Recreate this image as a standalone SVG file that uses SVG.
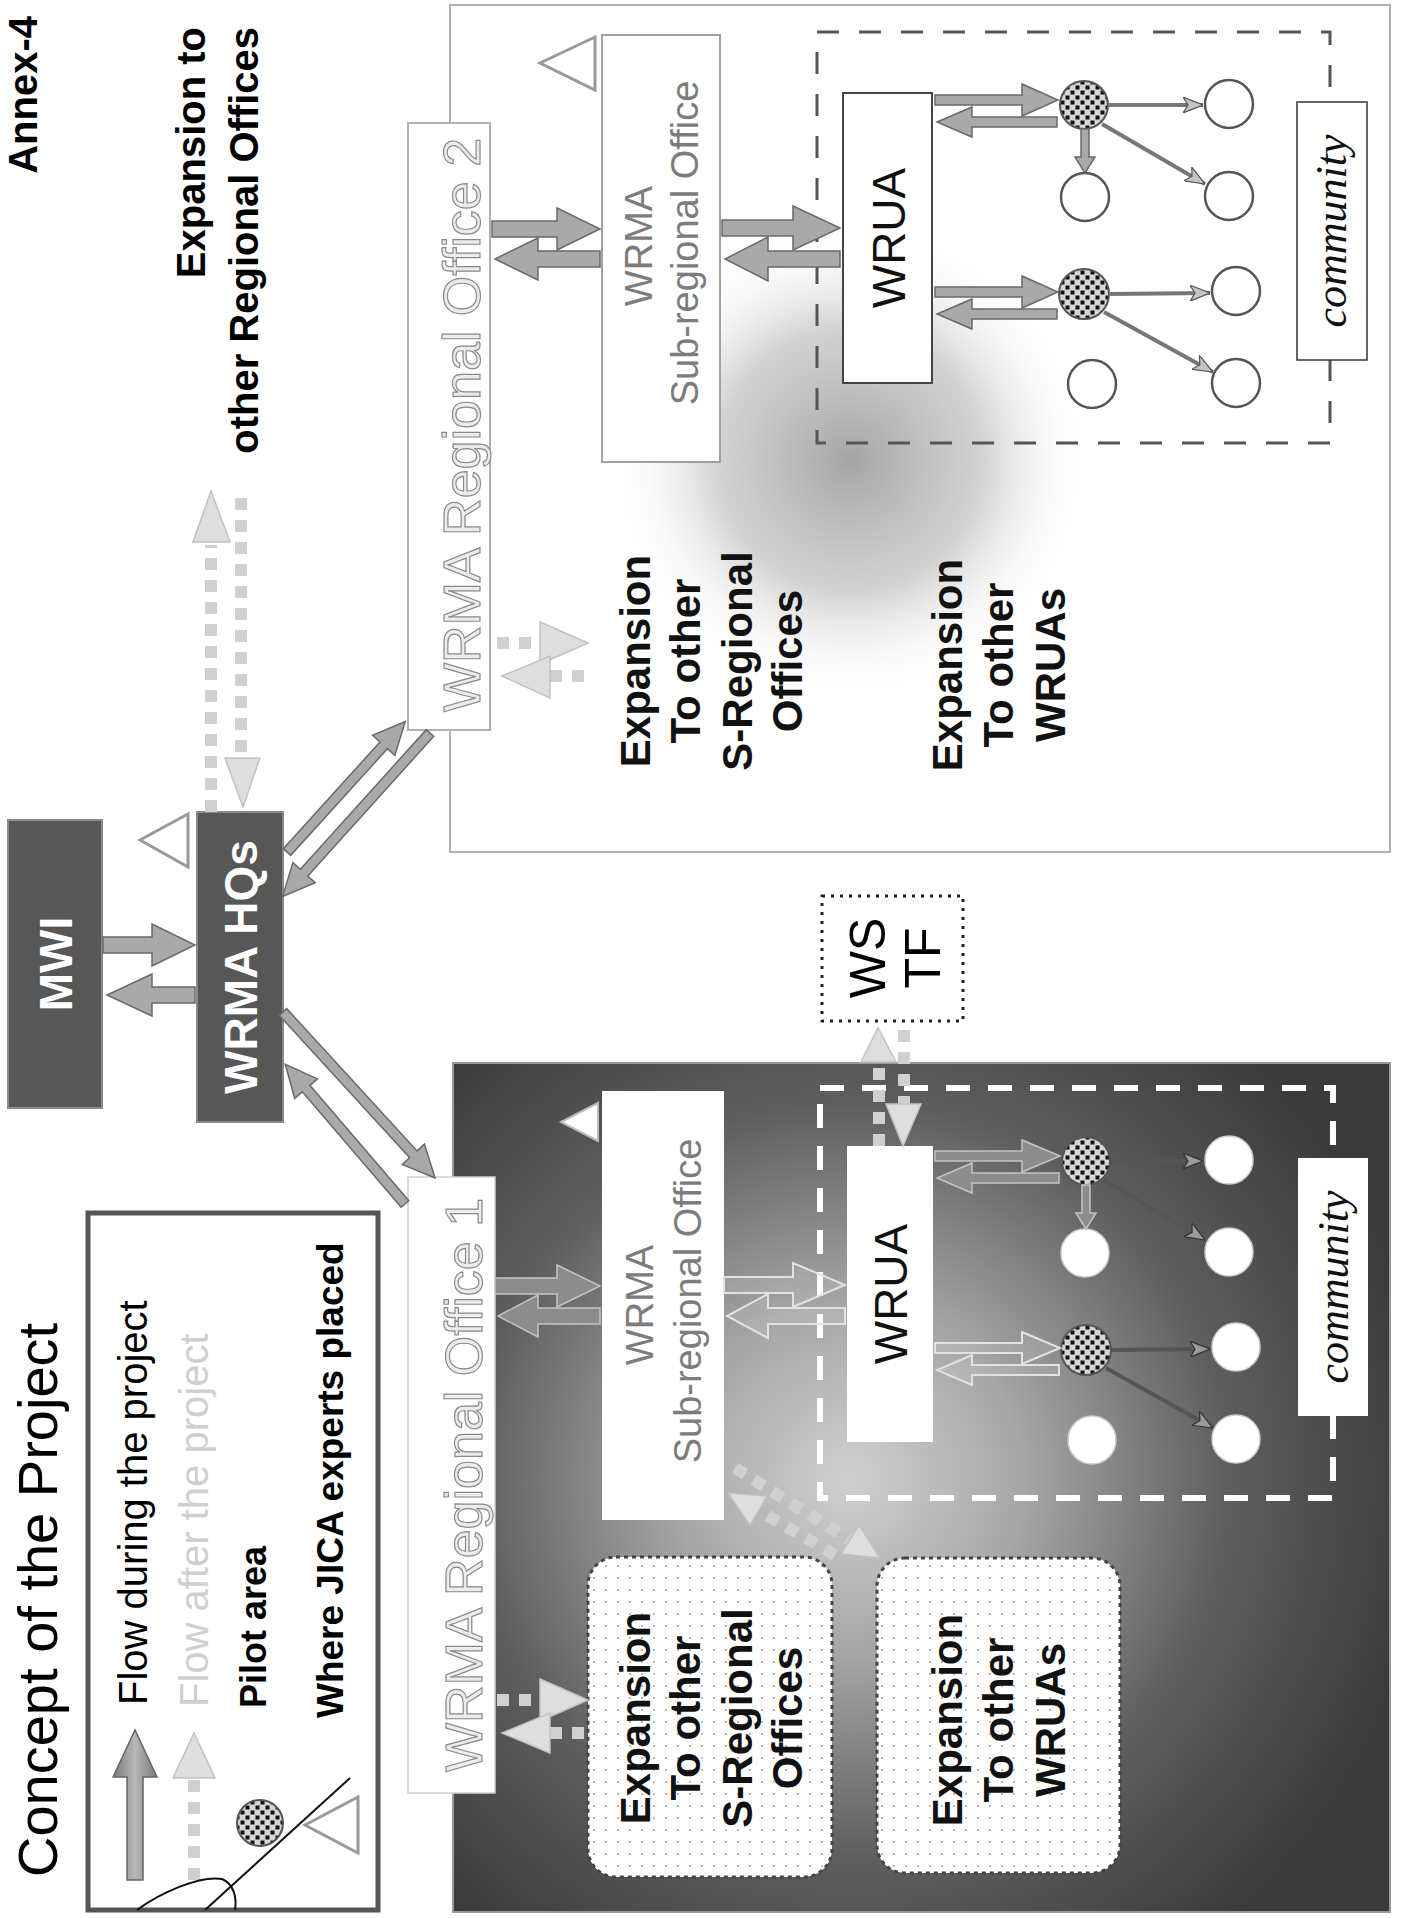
<svg xmlns="http://www.w3.org/2000/svg" width="1405" height="1918" viewBox="0 0 1405 1918">
<style>
.t{font-family:"Liberation Sans",Arial,sans-serif}
.b{font-weight:bold}
.lbl{font-family:"Liberation Sans",Arial,sans-serif;font-size:52px;fill:#ececec;stroke:#8a8a8a;stroke-width:1.2}
.sro{font-family:"Liberation Sans",Arial,sans-serif;font-size:38px;fill:#7c7c7c}
.wrua{font-family:"Liberation Sans",Arial,sans-serif;font-size:46px;fill:#111}
.com{font-family:"Liberation Serif","Times New Roman",serif;font-style:italic;font-size:44px;fill:#111}
.exp{font-family:"Liberation Sans",Arial,sans-serif;font-weight:bold;font-size:42px;fill:#111}
.arrow{fill:#a9a9a9;stroke:#6a6a6a;stroke-width:1.5}
.arrowD{fill:#8c8c8c;stroke:#c4c4c4;stroke-width:1.5}
.hollow{fill:#ffffff;fill-opacity:0.12;stroke:#e2e2e2;stroke-width:2}
.dshaft{stroke:#d0d0d0;stroke-width:12;stroke-dasharray:12 10;fill:none}
.dhead{fill:#dedede;stroke:#c2c2c2;stroke-width:1.5}
.thin{stroke:#777;stroke-width:4;fill:none;marker-end:url(#ah)}
.thinD{stroke:#555;stroke-width:4;fill:none;marker-end:url(#ahD)}
.circ{fill:#fff;stroke:#555;stroke-width:2.5}
.circW{fill:#fff;stroke:#cfcfcf;stroke-width:1.5}
.pilot{fill:url(#chk);stroke:#555;stroke-width:2}
.tri{fill:#fff;stroke:#999;stroke-width:3;stroke-linejoin:miter}
.dark{fill:#575757;stroke:#8a8a8a;stroke-width:2}
</style>
<defs>
<pattern id="chk" width="10" height="10" patternUnits="userSpaceOnUse">
<rect width="10" height="10" fill="#d6d6d6"/>
<rect x="0.5" y="0.5" width="4" height="4" fill="#111"/>
<rect x="5.5" y="5.5" width="4" height="4" fill="#111"/>
</pattern>
<pattern id="dots" width="12" height="12" patternUnits="userSpaceOnUse">
<rect width="12" height="12" fill="#fff"/>
<circle cx="6" cy="6" r="0.9" fill="#9a9a9a"/>
</pattern>
<radialGradient id="ro1g" gradientUnits="userSpaceOnUse" cx="850" cy="1480" r="580">
<stop offset="0" stop-color="#d0d0d0"/>
<stop offset="0.3" stop-color="#a6a6a6"/>
<stop offset="0.65" stop-color="#5e5e5e"/>
<stop offset="1" stop-color="#3b3b3b"/>
</radialGradient>
<radialGradient id="blob" gradientUnits="userSpaceOnUse" cx="850" cy="460" r="240">
<stop offset="0" stop-color="#a0a0a0" stop-opacity="0.95"/>
<stop offset="0.55" stop-color="#bababa" stop-opacity="0.65"/>
<stop offset="1" stop-color="#ffffff" stop-opacity="0"/>
</radialGradient>
<linearGradient id="legA" x1="0" y1="0" x2="1" y2="0">
<stop offset="0" stop-color="#7a7a7a"/>
<stop offset="0.5" stop-color="#b8b8b8"/>
<stop offset="1" stop-color="#7a7a7a"/>
</linearGradient>
<marker id="ah" viewBox="0 0 20 16" refX="20" refY="8" markerWidth="20" markerHeight="16" markerUnits="userSpaceOnUse" orient="auto">
<path d="M0,0 L20,8 L0,16 L5,8 z" fill="#c4c4c4" stroke="#555" stroke-width="1.2"/>
</marker>
<marker id="ahD" viewBox="0 0 20 16" refX="20" refY="8" markerWidth="20" markerHeight="16" markerUnits="userSpaceOnUse" orient="auto">
<path d="M0,0 L20,8 L0,16 L5,8 z" fill="#9a9a9a" stroke="#333" stroke-width="1.2"/>
</marker>
</defs>

<rect width="1405" height="1918" fill="#fff"/>

<!-- Titles -->
<g id="annex"><text class="t b" font-size="40" x="37" y="16" text-anchor="end" transform="rotate(-90 37 16)">Annex-4</text></g>
<g id="expansion-regional">
<text class="t b" font-size="40" x="205" y="27" text-anchor="end" transform="rotate(-90 205 27)">Expansion to</text>
<text class="t b" font-size="40" x="258" y="27" text-anchor="end" transform="rotate(-90 258 27)">other Regional Offices</text>
</g>
<g id="title"><text class="t" font-size="56" x="57" y="1877" transform="rotate(-90 57 1877)">Concept of the Project</text></g>

<!-- Legend -->
<g id="legend">
<rect x="88" y="1213" width="290" height="697" fill="#fff" stroke="#555" stroke-width="5"/>
<polygon points="127,1880 127,1777 113,1777 135,1730 157,1777 143,1777 143,1880" fill="url(#legA)" stroke="#666" stroke-width="1.5"/>
<text class="t" font-size="40" x="147" y="1705" transform="rotate(-90 147 1705)">Flow during the project</text>
<line class="dshaft" x1="194" y1="1880" x2="194" y2="1778"/>
<polygon class="dhead" points="173,1778 215,1778 194,1733"/>
<text class="t" font-size="40" fill="#cfcfcf" x="208" y="1707" transform="rotate(-90 208 1707)">Flow after the project</text>
<circle class="pilot" cx="260" cy="1823" r="23"/>
<text class="t b" font-size="36" x="266" y="1708" transform="rotate(-90 266 1708)">Pilot area</text>
<polygon class="tri" points="305,1825 358,1797 358,1853"/>
<text class="t b" font-size="37" x="343" y="1718" transform="rotate(-90 343 1718)">Where JICA experts placed</text>
<path d="M137,1910 C160,1893 200,1875 222,1879 C234,1884 237,1898 235,1910" fill="none" stroke="#111" stroke-width="2"/>
<line x1="205" y1="1910" x2="350" y2="1778" stroke="#111" stroke-width="2"/>
</g>

<!-- Top-level nodes -->
<g id="mwi">
<rect class="dark" x="8" y="820" width="94" height="288"/>
<text class="t b" font-size="46" fill="#fff" x="72" y="964" text-anchor="middle" transform="rotate(-90 72 964)">MWI</text>
</g>
<g id="wrma-hq">
<rect class="dark" x="197" y="812" width="86" height="310"/>
<text class="t b" font-size="46" fill="#fff" x="257" y="967" text-anchor="middle" transform="rotate(-90 257 967)">WRMA HQs</text>
<polygon class="tri" points="140,840 188,814 188,867"/>
</g>

<!-- Regional Office 2 -->
<g id="ro2">
<rect x="450" y="5" width="940" height="847" fill="#fff" stroke="#b0b0b0" stroke-width="2"/>
<ellipse cx="850" cy="460" rx="250" ry="240" fill="url(#blob)"/>
<rect x="408" y="123" width="82" height="607" fill="#fff" stroke="#b0b0b0" stroke-width="2"/>
<text class="lbl" x="480" y="425" text-anchor="middle" transform="rotate(-90 480 425)">WRMA Regional Office 2</text>
</g>
<g id="ro2-sro">
<rect x="602" y="35" width="118" height="427" fill="#fff" stroke="#a0a0a0" stroke-width="2"/>
<text class="sro" x="652" y="246" text-anchor="middle" transform="rotate(-90 652 246)">WRMA</text>
<text class="sro" x="698" y="243" text-anchor="middle" transform="rotate(-90 698 243)">Sub-regional Office</text>
<polygon class="tri" points="540,63 595,37 595,90"/>
</g>
<g id="ro2-pilot">
<rect x="817" y="32" width="513" height="411" fill="none" stroke="#555" stroke-width="3" stroke-dasharray="22 20"/>
</g>
<g id="ro2-wrua">
<rect x="843" y="93" width="89" height="290" fill="#fff" stroke="#444" stroke-width="2"/>
<text class="wrua" x="905" y="238" text-anchor="middle" transform="rotate(-90 905 238)">WRUA</text>
</g>
<g id="ro2-community">
<rect x="1297" y="102" width="70" height="258" fill="#fff" stroke="#333" stroke-width="1.5"/>
<text class="com" x="1346" y="231" text-anchor="middle" transform="rotate(-90 1346 231)">community</text>
</g>
<g id="ro2-circles">
<circle class="pilot" cx="1084" cy="105" r="24"/>
<circle class="pilot" cx="1084" cy="294" r="25"/>
<circle class="circ" cx="1229" cy="104" r="24"/>
<circle class="circ" cx="1085" cy="197" r="24"/>
<circle class="circ" cx="1229" cy="196" r="24"/>
<circle class="circ" cx="1236" cy="291" r="24"/>
<circle class="circ" cx="1092" cy="384" r="24"/>
<circle class="circ" cx="1236" cy="383" r="24"/>
</g>
<g id="ro2-exp-sro">
<text class="exp" x="650" y="661" text-anchor="middle" transform="rotate(-90 650 661)">Expansion</text>
<text class="exp" x="700" y="661" text-anchor="middle" transform="rotate(-90 700 661)">To other</text>
<text class="exp" x="752" y="661" text-anchor="middle" transform="rotate(-90 752 661)">S-Regional</text>
<text class="exp" x="802" y="661" text-anchor="middle" transform="rotate(-90 802 661)">Offices</text>
</g>
<g id="ro2-exp-wrua">
<text class="exp" x="962" y="665" text-anchor="middle" transform="rotate(-90 962 665)">Expansion</text>
<text class="exp" x="1013" y="665" text-anchor="middle" transform="rotate(-90 1013 665)">To other</text>
<text class="exp" x="1065" y="665" text-anchor="middle" transform="rotate(-90 1065 665)">WRUAs</text>
</g>

<!-- WS TF -->
<g id="wstf">
<rect x="822" y="896" width="141" height="125" fill="#fff" stroke="#222" stroke-width="3" stroke-dasharray="3 6"/>
<text class="t" font-size="50" x="885" y="958" text-anchor="middle" transform="rotate(-90 885 958)">WS</text>
<text class="t" font-size="50" x="940" y="958" text-anchor="middle" transform="rotate(-90 940 958)">TF</text>
</g>

<!-- Regional Office 1 -->
<g id="ro1">
<rect x="453" y="1063" width="937" height="849" fill="url(#ro1g)" stroke="#999" stroke-width="2"/>
<rect x="408" y="1177" width="87" height="616" fill="#fff" stroke="#d0d0d0" stroke-width="1.5"/>
<text class="lbl" x="482" y="1485" text-anchor="middle" transform="rotate(-90 482 1485)">WRMA Regional Office 1</text>
</g>
<g id="ro1-sro">
<rect x="602" y="1091" width="122" height="429" fill="#fff"/>
<text class="sro" x="653" y="1305" text-anchor="middle" transform="rotate(-90 653 1305)">WRMA</text>
<text class="sro" x="701" y="1301" text-anchor="middle" transform="rotate(-90 701 1301)">Sub-regional Office</text>
<polygon points="561,1122 598,1103 598,1141" fill="#fff" stroke="#bbb" stroke-width="2"/>
</g>
<g id="ro1-pilot">
<rect x="820" y="1088" width="513" height="410" fill="none" stroke="#fff" stroke-width="6" stroke-dasharray="24 18"/>
</g>
<g id="ro1-wrua">
<rect x="847" y="1146" width="86" height="296" fill="#fff"/>
<text class="wrua" x="907" y="1294" text-anchor="middle" transform="rotate(-90 907 1294)">WRUA</text>
</g>
<g id="ro1-community">
<rect x="1298" y="1158" width="70" height="258" fill="#fff"/>
<text class="com" x="1348" y="1287" text-anchor="middle" transform="rotate(-90 1348 1287)">community</text>
</g>
<g id="ro1-circles">
<circle class="pilot" cx="1086" cy="1161" r="24"/>
<circle class="pilot" cx="1086" cy="1350" r="25"/>
<circle class="circW" cx="1229" cy="1160" r="24"/>
<circle class="circW" cx="1085" cy="1253" r="24"/>
<circle class="circW" cx="1229" cy="1252" r="24"/>
<circle class="circW" cx="1236" cy="1347" r="24"/>
<circle class="circW" cx="1092" cy="1440" r="24"/>
<circle class="circW" cx="1236" cy="1439" r="24"/>
</g>
<g id="ro1-exp-sro">
<rect x="588" y="1557" width="244" height="320" rx="28" fill="url(#dots)" stroke="#444" stroke-width="3" stroke-dasharray="4 4"/>
<text class="exp" x="650" y="1718" text-anchor="middle" transform="rotate(-90 650 1718)">Expansion</text>
<text class="exp" x="700" y="1718" text-anchor="middle" transform="rotate(-90 700 1718)">To other</text>
<text class="exp" x="752" y="1718" text-anchor="middle" transform="rotate(-90 752 1718)">S-Regional</text>
<text class="exp" x="802" y="1718" text-anchor="middle" transform="rotate(-90 802 1718)">Offices</text>
</g>
<g id="ro1-exp-wrua">
<rect x="877" y="1558" width="243" height="315" rx="28" fill="url(#dots)" stroke="#444" stroke-width="3" stroke-dasharray="4 4"/>
<text class="exp" x="962" y="1720" text-anchor="middle" transform="rotate(-90 962 1720)">Expansion</text>
<text class="exp" x="1013" y="1720" text-anchor="middle" transform="rotate(-90 1013 1720)">To other</text>
<text class="exp" x="1065" y="1720" text-anchor="middle" transform="rotate(-90 1065 1720)">WRUAs</text>
</g>

<!-- Connectors -->
<g id="connectors">
<polygon class="arrow" points="103,937 152,937 152,924 195,945 152,966 152,953 103,953"/>
<polygon class="arrow" points="195,987 152,987 152,974 107,995 152,1016 152,1003 195,1003"/>
<polygon class="arrow" transform="translate(287 852) rotate(-47.8)" points="0,-5 144,-5 144,-15 176,0 144,15 144,5 0,5"/>
<polygon class="arrow" transform="translate(430 733) rotate(132.05)" points="0,-5 188,-5 188,-15 220,0 188,15 188,5 0,5"/>
<polygon class="arrow" transform="translate(283 1012) rotate(47.5)" points="0,-5 193,-5 193,-15 225,0 193,15 193,5 0,5"/>
<polygon class="arrow" transform="translate(405 1204) rotate(-130.6)" points="0,-5 152,-5 152,-15 184,0 152,15 152,5 0,5"/>
<line class="dshaft" x1="211" y1="812" x2="211" y2="545"/>
<polygon class="dhead" points="193,542 230,542 211,491"/>
<line class="dshaft" x1="241" y1="498" x2="241" y2="758"/>
<polygon class="dhead" points="225,758 260,758 243,807"/>

<polygon class="arrow" points="492,221 557,221 557,208 600,229 557,250 557,237 492,237"/>
<polygon class="arrow" points="600,251 538,251 538,238 495,259 538,280 538,267 600,267"/>
<polygon class="arrow" points="722,220 793,220 793,206 840,228 793,250 793,236 722,236"/>
<polygon class="arrow" points="840,251 768,251 768,237 725,259 768,281 768,267 840,267"/>
<polygon class="arrow" points="935,95 1022,95 1022,84 1058,100 1022,116 1022,105 935,105"/>
<polygon class="arrow" points="1057,117 972,117 972,107 937,122 972,137 972,127 1057,127"/>
<polygon class="arrow" points="935,287 1022,287 1022,276 1058,292 1022,308 1022,297 935,297"/>
<polygon class="arrow" points="1057,309 972,309 972,299 937,314 972,329 972,319 1057,319"/>
<line class="thin" x1="1108" y1="105" x2="1203" y2="105"/>
<line class="thin" x1="1102" y1="124" x2="1205" y2="184"/>
<line class="thin" x1="1109" y1="294" x2="1210" y2="293"/>
<line class="thin" x1="1104" y1="312" x2="1213" y2="372"/>
<polygon class="arrow" points="1081,129 1081,157 1075,157 1085,173 1095,157 1089,157 1089,129"/>
<line class="dshaft" x1="497" y1="643" x2="540" y2="643"/>
<polygon class="dhead" points="540,622 540,664 588,643"/>
<line class="dshaft" x1="550" y1="676" x2="588" y2="676"/>
<polygon class="dhead" points="550,656 550,698 502,676"/>

<line class="dshaft" x1="879" y1="1146" x2="879" y2="1062"/>
<polygon class="dhead" points="861,1062 896,1062 878,1028"/>
<line class="dshaft" x1="904" y1="1030" x2="904" y2="1104"/>
<polygon class="dhead" points="886,1104 921,1104 903,1146"/>

<polygon class="arrowD" points="495,1278 557,1278 557,1265 600,1286 557,1307 557,1294 495,1294"/>
<polygon class="arrowD" points="600,1308 538,1308 538,1295 498,1316 538,1337 538,1324 600,1324"/>
<polygon class="hollow" points="724,1277 793,1277 793,1263 845,1285 793,1307 793,1293 724,1293"/>
<polygon class="hollow" points="845,1308 768,1308 768,1294 727,1316 768,1338 768,1324 845,1324"/>
<polygon class="arrowD" points="935,1151 1022,1151 1022,1140 1060,1156 1022,1172 1022,1161 935,1161"/>
<polygon class="arrowD" points="1059,1173 972,1173 972,1163 937,1178 972,1193 972,1183 1059,1183"/>
<polygon class="hollow" points="935,1343 1022,1343 1022,1332 1060,1348 1022,1364 1022,1353 935,1353"/>
<polygon class="hollow" points="1059,1365 972,1365 972,1355 937,1370 972,1385 972,1375 1059,1375"/>
<line class="thinD" x1="1110" y1="1161" x2="1203" y2="1161"/>
<line class="thinD" x1="1104" y1="1180" x2="1205" y2="1240"/>
<line class="thinD" x1="1111" y1="1350" x2="1210" y2="1349"/>
<line class="thinD" x1="1106" y1="1368" x2="1213" y2="1428"/>
<polygon class="arrowD" points="1082,1185 1082,1213 1076,1213 1086,1229 1096,1213 1090,1213 1090,1185"/>
<line class="dshaft" x1="497" y1="1700" x2="540" y2="1700"/>
<polygon class="dhead" points="540,1679 540,1721 588,1700"/>
<line class="dshaft" x1="550" y1="1733" x2="588" y2="1733"/>
<polygon class="dhead" points="550,1713 550,1753 502,1733"/>
<line class="dshaft" x1="835" y1="1555" x2="758" y2="1510"/>
<polygon class="dhead" points="767,1496 750,1525 728,1493"/>
<line class="dshaft" x1="735" y1="1468" x2="850" y2="1540"/>
<polygon class="dhead" points="841,1554 859,1525 880,1558"/>
</g>
</svg>
